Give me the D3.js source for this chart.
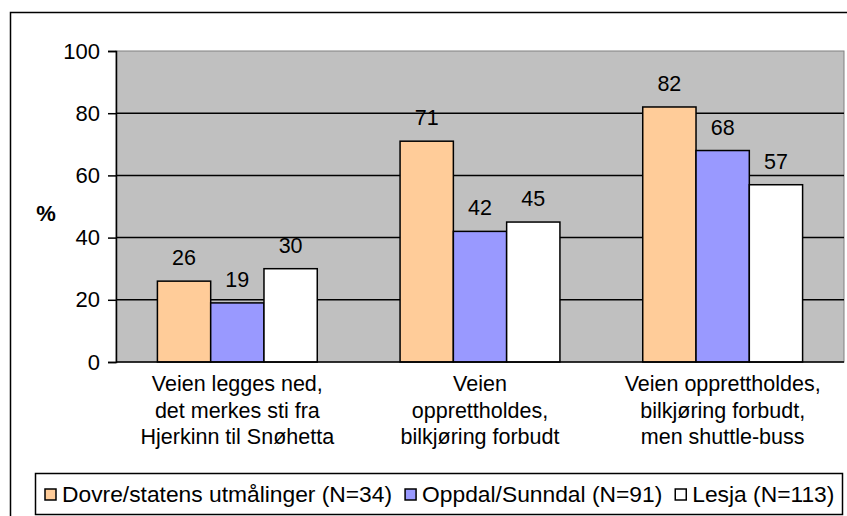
<!DOCTYPE html>
<html>
<head>
<meta charset="utf-8">
<script src="https://cdn.jsdelivr.net/npm/d3@7"></script>
<style>
  body { margin: 0; background: #fff; }
  text { font-family: Arial, "Liberation Sans", sans-serif; fill: #000; }
</style>
</head>
<body>
<div id="chart"></div>
<script>
// Data
const categories = [
  ["Veien legges ned,", "det merkes sti fra", "Hjerkinn til Snøhetta"],
  ["Veien", "opprettholdes,", "bilkjøring forbudt"],
  ["Veien opprettholdes,", "bilkjøring forbudt,", "men shuttle-buss"]
];
const seriesNames = ["Dovre/statens utmålinger (N=34)", "Oppdal/Sunndal (N=91)", "Lesja (N=113)"];
const seriesColors = ["#FFCC99", "#9999FF", "#FFFFFF"];
const dovre = [26, 71, 82];
const oppdal = [19, 42, 68];
const lesja = [30, 45, 57];
const yTicks = [0, 20, 40, 60, 80, 100];

const seriesValues = [dovre, oppdal, lesja];

// SVG
const w = 847, h = 516;
const plot = { left: 116, right: 844, top: 51, bottom: 362 };

const svg = d3.select("#chart")
  .append("svg")
  .attr("width", w)
  .attr("height", h);

// outer chart border
svg.append("rect")
  .attr("x", 10.5).attr("y", 12.5)
  .attr("width", 850).attr("height", 520)
  .attr("fill", "#fff")
  .attr("stroke", "#000").attr("stroke-width", 1.5);

// scales
const catIdx = d3.range(categories.length);
const x0 = d3.scaleBand()
  .domain(catIdx)
  .range([plot.left, plot.right]);
const x1 = d3.scaleBand()
  .domain(d3.range(seriesNames.length))
  .range([0, x0.bandwidth()])
  .paddingOuter(0.777);
const y = d3.scaleLinear()
  .domain([0, 100])
  .range([plot.bottom, plot.top]);

// plot area
svg.append("rect")
  .attr("x", plot.left).attr("y", plot.top)
  .attr("width", plot.right - plot.left)
  .attr("height", plot.bottom - plot.top)
  .attr("fill", "#C0C0C0")
  .attr("stroke", "#808080").attr("stroke-width", 1);

// gridlines
svg.append("g")
  .selectAll("line")
  .data(yTicks.filter(d => d > 0 && d < 100))
  .enter()
  .append("line")
  .attr("x1", plot.left).attr("x2", plot.right)
  .attr("y1", d => y(d)).attr("y2", d => y(d))
  .attr("stroke", "#000").attr("stroke-width", 1.5);

// y axis
const yAxis = d3.axisLeft(y)
  .tickValues(yTicks)
  .tickSize(8)
  .tickPadding(8);
const gy = svg.append("g")
  .attr("transform", `translate(${plot.left},0)`)
  .call(yAxis);
gy.select(".domain").attr("stroke", "#000").attr("stroke-width", 1.5);
gy.selectAll(".tick line").attr("stroke", "#000").attr("stroke-width", 1.5);
gy.selectAll(".tick text")
  .attr("font-size", 22)
  .attr("font-family", "Arial, 'Liberation Sans', sans-serif")
  .attr("fill", "#000");

// bars
const groups = svg.append("g")
  .selectAll("g")
  .data(catIdx)
  .enter()
  .append("g")
  .attr("transform", i => `translate(${x0(i)},0)`);

groups.selectAll("rect")
  .data(i => seriesValues.map((vals, s) => ({ s: s, v: vals[i] })))
  .enter()
  .append("rect")
  .attr("x", d => x1(d.s))
  .attr("width", x1.bandwidth())
  .attr("y", d => y(d.v))
  .attr("height", d => y(0) - y(d.v))
  .attr("fill", d => seriesColors[d.s])
  .attr("stroke", "#000").attr("stroke-width", 1.5);

groups.selectAll("text.val")
  .data(i => seriesValues.map((vals, s) => ({ s: s, v: vals[i] })))
  .enter()
  .append("text")
  .attr("class", "val")
  .attr("x", d => x1(d.s) + x1.bandwidth() / 2)
  .attr("y", d => y(d.v) - 16)
  .attr("text-anchor", "middle")
  .attr("font-size", 21.5)
  .text(d => d.v);

// x axis line
svg.append("line")
  .attr("x1", plot.left).attr("x2", plot.right)
  .attr("y1", y(0)).attr("y2", y(0))
  .attr("stroke", "#000").attr("stroke-width", 1.5);

// category labels
groups.append("text")
  .attr("x", x0.bandwidth() / 2)
  .attr("y", 391)
  .attr("text-anchor", "middle")
  .attr("font-size", 21.5)
  .selectAll("tspan")
  .data(i => categories[i])
  .enter()
  .append("tspan")
  .attr("x", x0.bandwidth() / 2)
  .attr("dy", (d, k) => k === 0 ? 0 : 26.5)
  .text(d => d);

// y axis title
svg.append("text")
  .attr("x", 46).attr("y", 221)
  .attr("text-anchor", "middle")
  .attr("font-size", 22)
  .attr("font-weight", "bold")
  .text("%");

// legend
const legend = svg.append("g");
legend.append("rect")
  .attr("x", 35.5).attr("y", 473.5)
  .attr("width", 807).attr("height", 41)
  .attr("fill", "#fff")
  .attr("stroke", "#000").attr("stroke-width", 1.5);

let lx = 45;
seriesNames.forEach((name, s) => {
  legend.append("rect")
    .attr("x", lx).attr("y", 489)
    .attr("width", 11).attr("height", 11)
    .attr("fill", seriesColors[s])
    .attr("stroke", "#000").attr("stroke-width", 1.5);
  const t = legend.append("text")
    .attr("x", lx + 17).attr("y", 502)
    .attr("font-size", 22.8)
    .text(name);
  lx += 17 + t.node().getComputedTextLength() + 13;
});
</script>
</body>
</html>
